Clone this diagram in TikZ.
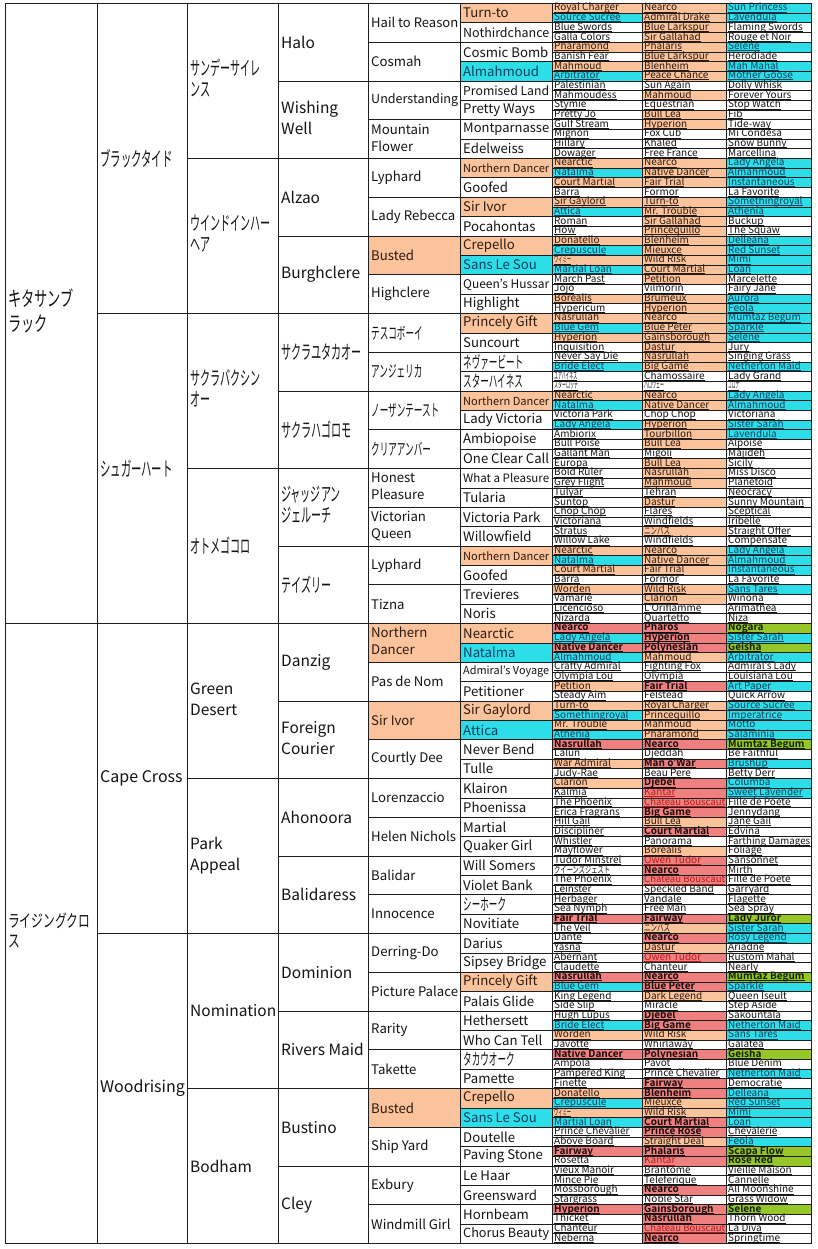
\documentclass[tikz,border=0pt]{standalone}
\usepackage{fontspec}
\setmainfont{Noto Sans CJK JP}[BoldFont={Noto Sans CJK JP Bold}]
\usepackage{graphicx}
\definecolor{cn}{RGB}{255,255,255}
\definecolor{co}{RGB}{250,195,155}
\definecolor{cc}{RGB}{45,222,232}
\definecolor{cr}{RGB}{238,128,128}
\definecolor{ck}{RGB}{238,128,128}
\definecolor{cg}{RGB}{150,198,40}
\definecolor{tn}{RGB}{20,20,20}
\definecolor{to}{RGB}{45,25,15}
\definecolor{tc}{RGB}{15,65,95}
\definecolor{tr}{RGB}{25,10,10}
\definecolor{tk}{RGB}{185,25,25}
\definecolor{tg}{RGB}{20,30,5}
\definecolor{gridc}{RGB}{30,30,30}
\newsavebox\fitbox
\newsavebox\ulbox
\newcommand\fitto[2]{\sbox\fitbox{#2}\ifdim\wd\fitbox>#1pt\resizebox{#1pt}{!}{\usebox\fitbox}\else\usebox\fitbox\fi}
\newcommand\ulx[1]{\sbox\ulbox{#1}\rlap{\rule[-1.2pt]{\wd\ulbox}{0.5pt}}\usebox\ulbox}
\newcommand\jx[2][0.65]{\scalebox{#1}[1.25]{#2}}
\newcommand\hk[2]{\resizebox{#1pt}{8pt}{#2}}
\newcommand\two[2]{\begin{tabular}{@{}l@{}}#1\\#2\end{tabular}}
\def\TopY{3.5}
\def\RH{9.6875}
\def\Bn{}\def\Bo{}\def\Bc{}\def\Bk{}\def\Br{\bfseries}\def\Bg{\bfseries}
\newcounter{rw}
\newcommand\smallcell[6]{%
  \pgfmathsetmacro\ya{-\TopY-(\rI-1)*\RH}%
  \pgfmathsetmacro\yb{\ya-\RH}%
  \path[F=#5] (#2,\ya) rectangle (#3,\yb);%
  \node[smalltxt,T=#5] (n#1-\rI) at ({#2+2},{\yb+2.2}) {\csname B#5\endcsname\fitto{#6}{\ulx{#4}}};}
\newcommand\Rw[6]{\stepcounter{rw}\edef\rI{\arabic{rw}}%
  \smallcell{7}{552}{642}{#1}{#2}{86}%
  \smallcell{8}{642}{726}{#3}{#4}{81}%
  \smallcell{9}{726}{811}{#5}{#6}{82}}
\newcommand\bigcell[8]{%
  \pgfmathsetmacro\ya{-\TopY-(#4)*\RH}%
  \pgfmathsetmacro\yb{-\TopY-(#4+#5)*\RH}%
  \path[F=#6] (#2,\ya) rectangle (#3,\yb);%
  \node[bigtxt,#8,T=#6] (#1) at ({#2+3},{(\ya+\yb)/2}) {#7};}
\begin{document}
\begin{tikzpicture}[x=1pt,y=1pt,
  grid/.style={draw=gridc,line width=0.75pt},
  F/.style={fill=c#1},
  T/.style={text=t#1},
  bigtxt/.style={anchor=west,inner sep=0pt,align=left},
  smalltxt/.style={anchor=base west,inner sep=0pt,font=\fontsize{10}{11}\selectfont},
  f1/.style={font=\fontsize{16.5}{25}\selectfont},
  f2/.style={font=\fontsize{16}{20}\selectfont},
  f3/.style={font=\fontsize{15.5}{21}\selectfont},
  f4/.style={font=\fontsize{15.5}{20.5}\selectfont},
  f5/.style={font=\fontsize{13.2}{17}\selectfont},
  f6/.style={font=\fontsize{13.2}{16}\selectfont}]
\useasboundingbox (0,0) rectangle (817,-1249);
\fill[white] (0,0) rectangle (817,-1249);
% generation 1
\bigcell{g1-0}{5}{97}{0}{64}{n}{\two{\jx[0.8]{キタサンブ}}{\jx[0.8]{ラック}}}{f1}
\bigcell{g1-1}{5}{97}{64}{64}{n}{{\fontsize{14}{20}\selectfont\two{\jx[0.84]{ライジングクロ}}{\jx[0.84]{ス}}}}{f1}
% generation 2
\foreach \tx/\kd [count=\j from 0] in {{\jx{ブラックタイド}}/n,{\jx{シュガーハート}}/n,Cape Cross/n,Woodrising/n}
  {\bigcell{g2-\j}{97}{187}{\j*32}{32}{\kd}{\fitto{87}{\tx}}{f2}}
% generation 3
\foreach \tx/\kd [count=\j from 0] in {{\two{\jx{サンデーサイレ}}{\jx{ンス}}}/n,{\two{\jx{ウインドインハー}}{\jx{ヘア}}}/n,{\two{\jx{サクラバクシン}}{\jx{オー}}}/n,{\jx{オトメゴコロ}}/n,{\two{Green}{Desert}}/n,{\two{Park}{Appeal}}/n,Nomination/n,Bodham/n}
  {\bigcell{g3-\j}{187}{278}{\j*16}{16}{\kd}{\fitto{88}{\tx}}{f3}}
% generation 4
\foreach \tx/\kd [count=\j from 0] in {Halo/n,{\two{Wishing}{Well}}/n,Alzao/n,Burghclere/n,{\jx{サクラユタカオー}}/n,{\jx{サクラハゴロモ}}/n,{\two{\jx{ジャッジアン}}{\jx{ジェルーチ}}}/n,{\jx{テイズリー}}/n,Danzig/n,{\two{Foreign}{Courier}}/n,Ahonoora/n,Balidaress/n,Dominion/n,Rivers Maid/n,Bustino/n,Cley/n}
  {\bigcell{g4-\j}{278}{368}{\j*8}{8}{\kd}{\fitto{87}{\tx}}{f4}}
% generation 5
\foreach \tx/\kd [count=\j from 0] in {Hail to Reason/n,Cosmah/n,Understanding/n,{\two{Mountain}{Flower}}/n,Lyphard/n,Lady Rebecca/n,Busted/o,Highclere/n,{\jx{テスコボーイ}}/n,{\jx{アンジェリカ}}/n,{\jx{ノーザンテースト}}/n,{\jx{クリアアンバー}}/n,{\two{Honest}{Pleasure}}/n,{\two{Victorian}{Queen}}/n,Lyphard/n,Tizna/n,{\two{Northern}{Dancer}}/o,Pas de Nom/n,Sir Ivor/o,Courtly Dee/n,Lorenzaccio/n,Helen Nichols/n,Balidar/n,Innocence/n,Derring-Do/n,Picture Palace/n,Rarity/n,Takette/n,Busted/o,Ship Yard/n,Exbury/n,Windmill Girl/n}
  {\bigcell{g5-\j}{368}{460}{\j*4}{4}{\kd}{\fitto{87}{\tx}}{f5}}
% generation 6
\foreach \tx/\kd [count=\j from 0] in {Turn-to/o,Nothirdchance/n,Cosmic Bomb/n,Almahmoud/c,Promised Land/n,Pretty Ways/n,Montparnasse/n,Edelweiss/n,Northern Dancer/o,Goofed/n,Sir Ivor/o,Pocahontas/n,Crepello/o,Sans Le Sou/c,Queen's Hussar/n,Highlight/n,Princely Gift/o,Suncourt/n,{\jx{ネヴァービート}}/n,{\jx{スターハイネス}}/n,Northern Dancer/o,Lady Victoria/n,Ambiopoise/n,One Clear Call/n,What a Pleasure/n,Tularia/n,Victoria Park/n,Willowfield/n,Northern Dancer/o,Goofed/n,Trevieres/n,Noris/n,Nearctic/o,Natalma/c,Admiral's Voyage/n,Petitioner/n,Sir Gaylord/o,Attica/c,Never Bend/n,Tulle/n,Klairon/n,Phoenissa/n,Martial/n,Quaker Girl/n,Will Somers/n,Violet Bank/n,{\jx{シーホーク}}/n,Novitiate/n,Darius/n,Sipsey Bridge/n,Princely Gift/o,Palais Glide/n,Hethersett/n,Who Can Tell/n,{\jx{タカウオーク}}/n,Pamette/n,Crepello/o,Sans Le Sou/c,Doutelle/n,Paving Stone/n,Le Haar/n,Greensward/n,Hornbeam/n,Chorus Beauty/n}
  {\bigcell{g6-\j}{460}{552}{\j*2}{2}{\kd}{\fitto{86}{\tx}}{f6}}
% generations 7 and 8
\Rw{Royal Charger}{o}{Nearco}{o}{Sun Princess}{c}
\Rw{Source Sucree}{c}{Admiral Drake}{o}{Lavendula}{c}
\Rw{Blue Swords}{n}{Blue Larkspur}{o}{Flaming Swords}{n}
\Rw{Galla Colors}{n}{Sir Gallahad}{o}{Rouge et Noir}{n}
\Rw{Pharamond}{o}{Phalaris}{o}{Selene}{c}
\Rw{Banish Fear}{n}{Blue Larkspur}{o}{Herodiade}{n}
\Rw{Mahmoud}{o}{Blenheim}{o}{Mah Mahal}{c}
\Rw{Arbitrator}{c}{Peace Chance}{o}{Mother Goose}{c}
\Rw{Palestinian}{n}{Sun Again}{n}{Dolly Whisk}{n}
\Rw{Mahmoudess}{n}{Mahmoud}{o}{Forever Yours}{n}
\Rw{Stymie}{n}{Equestrian}{n}{Stop Watch}{n}
\Rw{Pretty Jo}{n}{Bull Lea}{o}{Fib}{n}
\Rw{Gulf Stream}{n}{Hyperion}{o}{Tide-way}{n}
\Rw{Mignon}{n}{Fox Cub}{n}{Mi Condesa}{n}
\Rw{Hillary}{n}{Khaled}{n}{Snow Bunny}{n}
\Rw{Dowager}{n}{Free France}{n}{Marcellina}{n}
\Rw{Nearctic}{o}{Nearco}{o}{Lady Angela}{c}
\Rw{Natalma}{c}{Native Dancer}{o}{Almahmoud}{c}
\Rw{Court Martial}{o}{Fair Trial}{o}{Instantaneous}{c}
\Rw{Barra}{n}{Formor}{n}{La Favorite}{n}
\Rw{Sir Gaylord}{o}{Turn-to}{o}{Somethingroyal}{c}
\Rw{Attica}{c}{Mr. Trouble}{o}{Athenia}{c}
\Rw{Roman}{n}{Sir Gallahad}{o}{Buckup}{n}
\Rw{How}{n}{Princequillo}{o}{The Squaw}{n}
\Rw{Donatello}{o}{Blenheim}{o}{Delleana}{c}
\Rw{Crepuscule}{c}{Mieuxce}{o}{Red Sunset}{c}
\Rw{\hk{17}{ヴィミー}}{o}{Wild Risk}{o}{Mimi}{c}
\Rw{Martial Loan}{c}{Court Martial}{o}{Loan}{c}
\Rw{March Past}{n}{Petition}{o}{Marcelette}{n}
\Rw{Jojo}{n}{Vilmorin}{n}{Fairy Jane}{n}
\Rw{Borealis}{o}{Brumeux}{o}{Aurora}{c}
\Rw{Hypericum}{n}{Hyperion}{o}{Feola}{c}
\Rw{Nasrullah}{o}{Nearco}{o}{Mumtaz Begum}{c}
\Rw{Blue Gem}{c}{Blue Peter}{o}{Sparkle}{c}
\Rw{Hyperion}{o}{Gainsborough}{o}{Selene}{c}
\Rw{Inquisition}{n}{Dastur}{o}{Jury}{n}
\Rw{Never Say Die}{n}{Nasrullah}{o}{Singing Grass}{n}
\Rw{Bride Elect}{c}{Big Game}{o}{Netherton Maid}{c}
\Rw{\hk{23}{ユアハイネス}}{n}{Chamossaire}{n}{Lady Grand}{n}
\Rw{\hk{24}{スターロッチ}}{n}{\hk{20}{ハロウェー}}{n}{\hk{11}{コロナ}}{n}
\Rw{Nearctic}{o}{Nearco}{o}{Lady Angela}{c}
\Rw{Natalma}{c}{Native Dancer}{o}{Almahmoud}{c}
\Rw{Victoria Park}{n}{Chop Chop}{n}{Victoriana}{n}
\Rw{Lady Angela}{c}{Hyperion}{o}{Sister Sarah}{c}
\Rw{Ambiorix}{n}{Tourbillon}{o}{Lavendula}{c}
\Rw{Bull Poise}{n}{Bull Lea}{o}{Alpoise}{n}
\Rw{Gallant Man}{n}{Migoli}{n}{Majideh}{n}
\Rw{Europa}{n}{Bull Lea}{o}{Sicily}{n}
\Rw{Bold Ruler}{n}{Nasrullah}{o}{Miss Disco}{n}
\Rw{Grey Flight}{n}{Mahmoud}{o}{Planetoid}{n}
\Rw{Tulyar}{n}{Tehran}{n}{Neocracy}{n}
\Rw{Suntop}{n}{Dastur}{o}{Sunny Mountain}{n}
\Rw{Chop Chop}{n}{Flares}{n}{Sceptical}{n}
\Rw{Victoriana}{n}{Windfields}{n}{Iribelle}{n}
\Rw{Stratus}{n}{\hk{26}{ニンバス}}{o}{Straight Offer}{n}
\Rw{Willow Lake}{n}{Windfields}{n}{Compensate}{n}
\Rw{Nearctic}{o}{Nearco}{o}{Lady Angela}{c}
\Rw{Natalma}{c}{Native Dancer}{o}{Almahmoud}{c}
\Rw{Court Martial}{o}{Fair Trial}{o}{Instantaneous}{c}
\Rw{Barra}{n}{Formor}{n}{La Favorite}{n}
\Rw{Worden}{o}{Wild Risk}{o}{Sans Tares}{c}
\Rw{Vamarie}{n}{Clarion}{o}{Winona}{n}
\Rw{Licencioso}{n}{L'Oriflamme}{n}{Arimathea}{n}
\Rw{Nizarda}{n}{Quartetto}{n}{Niza}{n}
\Rw{Nearco}{r}{Pharos}{r}{Nogara}{g}
\Rw{Lady Angela}{c}{Hyperion}{r}{Sister Sarah}{c}
\Rw{Native Dancer}{r}{Polynesian}{r}{Geisha}{g}
\Rw{Almahmoud}{c}{Mahmoud}{o}{Arbitrator}{c}
\Rw{Crafty Admiral}{n}{Fighting Fox}{n}{Admiral's Lady}{n}
\Rw{Olympia Lou}{n}{Olympia}{n}{Louisiana Lou}{n}
\Rw{Petition}{o}{Fair Trial}{r}{Art Paper}{c}
\Rw{Steady Aim}{n}{Felstead}{n}{Quick Arrow}{n}
\Rw{Turn-to}{o}{Royal Charger}{o}{Source Sucree}{c}
\Rw{Somethingroyal}{c}{Princequillo}{o}{Imperatrice}{c}
\Rw{Mr. Trouble}{o}{Mahmoud}{o}{Motto}{c}
\Rw{Athenia}{c}{Pharamond}{o}{Salaminia}{c}
\Rw{Nasrullah}{r}{Nearco}{r}{Mumtaz Begum}{g}
\Rw{Lalun}{n}{Djeddah}{n}{Be Faithful}{n}
\Rw{War Admiral}{o}{Man o'War}{r}{Brushup}{c}
\Rw{Judy-Rae}{n}{Beau Pere}{n}{Betty Derr}{n}
\Rw{Clarion}{o}{Djebel}{r}{Columba}{c}
\Rw{Kalmia}{n}{Kantar}{k}{Sweet Lavender}{c}
\Rw{The Phoenix}{n}{Chateau Bouscaut}{k}{Fille de Poete}{n}
\Rw{Erica Fragrans}{n}{Big Game}{r}{Jennydang}{n}
\Rw{Hill Gail}{n}{Bull Lea}{o}{Jane Gail}{n}
\Rw{Discipliner}{n}{Court Martial}{r}{Edvina}{n}
\Rw{Whistler}{n}{Panorama}{n}{Farthing Damages}{n}
\Rw{Mayflower}{n}{Borealis}{o}{Foliage}{n}
\Rw{Tudor Minstrel}{n}{Owen Tudor}{k}{Sansonnet}{n}
\Rw{\hk{56}{クイーンズジェスト}}{n}{Nearco}{r}{Mirth}{n}
\Rw{The Phoenix}{n}{Chateau Bouscaut}{k}{Fille de Poete}{n}
\Rw{Leinster}{n}{Speckled Band}{n}{Garryard}{n}
\Rw{Herbager}{n}{Vandale}{n}{Flagette}{n}
\Rw{Sea Nymph}{n}{Free Man}{n}{Sea Spray}{n}
\Rw{Fair Trial}{r}{Fairway}{r}{Lady Juror}{g}
\Rw{The Veil}{n}{\hk{26}{ニンバス}}{o}{Sister Sarah}{c}
\Rw{Dante}{n}{Nearco}{r}{Rosy Legend}{c}
\Rw{Yasna}{n}{Dastur}{o}{Ariadne}{n}
\Rw{Abernant}{n}{Owen Tudor}{k}{Rustom Mahal}{n}
\Rw{Claudette}{n}{Chanteur}{n}{Nearly}{n}
\Rw{Nasrullah}{r}{Nearco}{r}{Mumtaz Begum}{g}
\Rw{Blue Gem}{c}{Blue Peter}{r}{Sparkle}{c}
\Rw{King Legend}{n}{Dark Legend}{o}{Queen Iseult}{n}
\Rw{Side Slip}{n}{Miracle}{n}{Step Aside}{n}
\Rw{Hugh Lupus}{n}{Djebel}{r}{Sakountala}{n}
\Rw{Bride Elect}{c}{Big Game}{r}{Netherton Maid}{c}
\Rw{Worden}{o}{Wild Risk}{o}{Sans Tares}{c}
\Rw{Javotte}{n}{Whirlaway}{n}{Galatea}{n}
\Rw{Native Dancer}{r}{Polynesian}{r}{Geisha}{g}
\Rw{Ampola}{n}{Pavot}{n}{Blue Denim}{n}
\Rw{Pampered King}{n}{Prince Chevalier}{n}{Netherton Maid}{c}
\Rw{Finette}{n}{Fairway}{r}{Democratie}{n}
\Rw{Donatello}{o}{Blenheim}{r}{Delleana}{c}
\Rw{Crepuscule}{c}{Mieuxce}{o}{Red Sunset}{c}
\Rw{\hk{17}{ヴィミー}}{o}{Wild Risk}{o}{Mimi}{c}
\Rw{Martial Loan}{c}{Court Martial}{r}{Loan}{c}
\Rw{Prince Chevalier}{n}{Prince Rose}{r}{Chevalerie}{n}
\Rw{Above Board}{n}{Straight Deal}{o}{Feola}{c}
\Rw{Fairway}{r}{Phalaris}{r}{Scapa Flow}{g}
\Rw{Rosetta}{n}{Kantar}{k}{Rose Red}{g}
\Rw{Vieux Manoir}{n}{Brantome}{n}{Vieille Maison}{n}
\Rw{Mince Pie}{n}{Teleferique}{n}{Cannelle}{n}
\Rw{Mossborough}{n}{Nearco}{r}{All Moonshine}{n}
\Rw{Stargrass}{n}{Noble Star}{n}{Grass Widow}{n}
\Rw{Hyperion}{r}{Gainsborough}{r}{Selene}{g}
\Rw{Thicket}{n}{Nasrullah}{r}{Thorn Wood}{n}
\Rw{Chanteur}{n}{Chateau Bouscaut}{k}{La Diva}{n}
\Rw{Neberna}{n}{Nearco}{r}{Springtime}{n}
% grid
\foreach \xl/\xr/\s in {5/97/64,97/187/32,187/278/16,278/368/8,368/460/4,460/552/2,552/642/1,642/726/1,726/811/1}{
  \pgfmathtruncatemacro\nn{128/\s}
  \foreach \m in {1,...,\nn}{\draw[grid] (\xl,{-\TopY-\m*\s*\RH}) -- (\xr,{-\TopY-\m*\s*\RH});}
}
\foreach \x in {5,97,187,278,368,460,552,642,726,811}{\draw[grid] (\x,-\TopY) -- (\x,{-\TopY-128*\RH});}
\draw[grid] (5,-\TopY) -- (811,-\TopY);
\end{tikzpicture}
\end{document}
